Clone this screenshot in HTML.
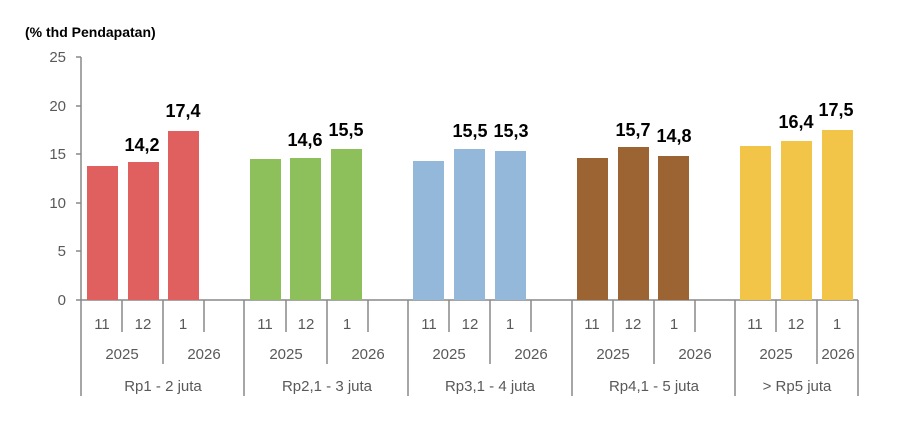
<!DOCTYPE html><html><head><meta charset="utf-8"><style>body{margin:0;background:#fff}svg{display:block}</style></head><body>
<svg width="900" height="436" xmlns="http://www.w3.org/2000/svg" font-family="'Liberation Sans',sans-serif">
<text x="25" y="37" font-size="14" font-weight="bold" fill="#000">(% thd Pendapatan)</text>
<g stroke="#888" stroke-width="1.5" fill="none">
<line x1="81" y1="57" x2="81" y2="396"/>
<line x1="76" y1="57" x2="81" y2="57"/><line x1="76" y1="106" x2="81" y2="106"/><line x1="76" y1="154" x2="81" y2="154"/><line x1="76" y1="203" x2="81" y2="203"/><line x1="76" y1="251" x2="81" y2="251"/><line x1="76" y1="300" x2="858" y2="300"/>
<line x1="244" y1="300" x2="244" y2="396"/><line x1="408" y1="300" x2="408" y2="396"/><line x1="572" y1="300" x2="572" y2="396"/><line x1="735" y1="300" x2="735" y2="396"/><line x1="858" y1="300" x2="858" y2="396"/>
<line x1="163" y1="300" x2="163" y2="364"/><line x1="327" y1="300" x2="327" y2="364"/><line x1="490" y1="300" x2="490" y2="364"/><line x1="654" y1="300" x2="654" y2="364"/><line x1="817" y1="300" x2="817" y2="364"/>
<line x1="122" y1="300" x2="122" y2="332"/><line x1="204" y1="300" x2="204" y2="332"/>
<line x1="286" y1="300" x2="286" y2="332"/><line x1="368" y1="300" x2="368" y2="332"/>
<line x1="449" y1="300" x2="449" y2="332"/><line x1="531" y1="300" x2="531" y2="332"/>
<line x1="613" y1="300" x2="613" y2="332"/><line x1="695" y1="300" x2="695" y2="332"/>
<line x1="776" y1="300" x2="776" y2="332"/>
</g>
<g font-size="15" fill="#595959" text-anchor="end">
<text x="66" y="62">25</text><text x="66" y="111">20</text><text x="66" y="159">15</text><text x="66" y="208">10</text><text x="66" y="256">5</text><text x="66" y="305">0</text>
</g>
<g font-size="15" fill="#595959" text-anchor="middle">
<text x="102" y="329">11</text><text x="143" y="329">12</text><text x="183" y="329">1</text>
<text x="265" y="329">11</text><text x="306" y="329">12</text><text x="347" y="329">1</text>
<text x="429" y="329">11</text><text x="470" y="329">12</text><text x="510" y="329">1</text>
<text x="592" y="329">11</text><text x="633" y="329">12</text><text x="674" y="329">1</text>
<text x="755" y="329">11</text><text x="796" y="329">12</text><text x="837" y="329">1</text>
<text x="122" y="359">2025</text><text x="204" y="359">2026</text>
<text x="286" y="359">2025</text><text x="368" y="359">2026</text>
<text x="449" y="359">2025</text><text x="531" y="359">2026</text>
<text x="613" y="359">2025</text><text x="695" y="359">2026</text>
<text x="776" y="359">2025</text><text x="838" y="359">2026</text>
<text x="163" y="391">Rp1 - 2 juta</text><text x="327" y="391">Rp2,1 - 3 juta</text><text x="490" y="391">Rp3,1 - 4 juta</text><text x="654" y="391">Rp4,1 - 5 juta</text><text x="797" y="391">&gt; Rp5 juta</text>
</g>
<g fill="#E06060">
<rect x="87" y="166" width="31" height="134"/><rect x="128" y="162" width="31" height="138"/><rect x="168" y="131" width="31" height="169"/></g>
<g fill="#8DC05A">
<rect x="250" y="159" width="31" height="141"/><rect x="290" y="158" width="31" height="142"/><rect x="331" y="149" width="31" height="151"/></g>
<g fill="#94B8D9">
<rect x="413" y="161" width="31" height="139"/><rect x="454" y="149" width="31" height="151"/><rect x="495" y="151" width="31" height="149"/></g>
<g fill="#9C6433">
<rect x="577" y="158" width="31" height="142"/><rect x="618" y="147" width="31" height="153"/><rect x="658" y="156" width="31" height="144"/></g>
<g fill="#F2C548">
<rect x="740" y="146" width="31" height="154"/><rect x="781" y="141" width="31" height="159"/><rect x="822" y="130" width="31" height="170"/></g>
<g font-size="18" font-weight="bold" fill="#000" text-anchor="middle">
<text x="142" y="151">14,2</text><text x="183" y="117">17,4</text>
<text x="305" y="146">14,6</text><text x="346" y="136">15,5</text>
<text x="470" y="137">15,5</text><text x="511" y="137">15,3</text>
<text x="633" y="136">15,7</text><text x="674" y="142">14,8</text>
<text x="796" y="128">16,4</text><text x="836" y="116">17,5</text>
</g>
</svg></body></html>
